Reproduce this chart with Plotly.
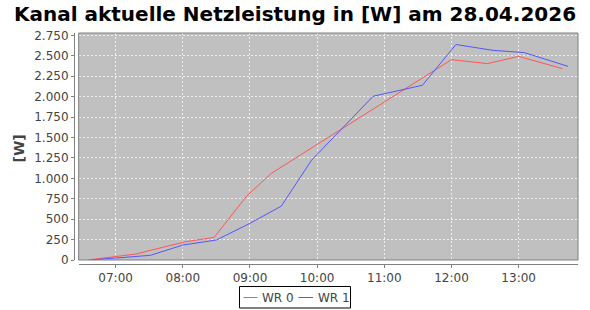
import plotly.graph_objects as go

DAY = "2026-04-28 "

wr0_times = ["06:35", "07:18", "08:01", "08:28", "08:57", "09:19", "12:00", "12:32", "13:00", "13:39"]
wr0_values = [0, 73, 220, 277, 782, 1060, 2453, 2404, 2493, 2343]

wr1_times = ["06:37", "07:31", "08:00", "08:30", "09:00", "09:28", "09:55", "10:50", "11:34", "12:04", "12:37", "13:05", "13:44"]
wr1_values = [0, 57, 183, 245, 449, 660, 1222, 2005, 2139, 2638, 2567, 2539, 2371]

series_names = ["WR 0", "WR 1"]
series_colors = ["#FF5555", "#5555FF"]

y_ticks = [0, 250, 500, 750, 1000, 1250, 1500, 1750, 2000, 2250, 2500, 2750]
x_range = ["06:27", "13:53"]
y_range = [0, 2779]

title_text = "Kanal aktuelle Netzleistung in [W] am 28.04.2026"
y_title = "[W]"

FONT = "DejaVu Sans"
TXT = "#444444"

L, R, T, B = 74, 12, 33, 46
W, H = 590, 310
PW, PH = W - L - R, H - T - B


def px_x(p):
    return (p - L) / PW


def px_y(p):
    return (H - B - p) / PH


fig = go.Figure()
fig.add_trace(go.Scatter(x=[DAY + t for t in wr0_times], y=wr0_values, mode="lines",
                         name=series_names[0], line=dict(color=series_colors[0], width=1)))
fig.add_trace(go.Scatter(x=[DAY + t for t in wr1_times], y=wr1_values, mode="lines",
                         name=series_names[1], line=dict(color=series_colors[1], width=1)))

fig.update_layout(
    width=W, height=H,
    margin=dict(l=L, r=R, t=T, b=B, autoexpand=False),
    paper_bgcolor="white",
    plot_bgcolor="#C0C0C0",
    separators=",.",
    font=dict(family=FONT, size=12, color=TXT),
    title=dict(text="<b>" + title_text + "</b>", x=0.5, xanchor="center", xref="container",
               y=1 - 14 / 310, yanchor="middle", yref="container",
               font=dict(family=FONT, size=20, color="black")),
    xaxis=dict(type="date", range=[DAY + x_range[0], DAY + x_range[1]],
               domain=[0.0093, 1], anchor="free", position=0,
               tickformat="%H:%M", dtick=3600000, tick0=DAY + "00:00", tickangle=0,
               showgrid=True, gridcolor="#EEEEEE", griddash="2px,2px", gridwidth=1,
               showline=True, linecolor="#808080", linewidth=1,
               ticks="outside", ticklen=3, tickcolor="#808080",
               tickfont=dict(family=FONT, size=12, color=TXT), zeroline=False,
               automargin=False),
    yaxis=dict(range=y_range, domain=[0.0173, 1], anchor="free", position=0,
               tickvals=y_ticks, tickformat=",d",
               showgrid=True, gridcolor="#EEEEEE", griddash="2px,2px", gridwidth=1,
               showline=True, linecolor="#808080", linewidth=1,
               ticks="outside", ticklen=3, tickcolor="#808080",
               tickfont=dict(family=FONT, size=12, color=TXT), zeroline=False,
               automargin=False),
    showlegend=False,
)

# plot border
fig.add_shape(type="rect", xref="x domain", yref="y domain", x0=0, x1=1, y0=0, y1=1,
              line=dict(color="#808080", width=1), fillcolor="rgba(0,0,0,0)", layer="above")

# y-axis title
fig.add_annotation(text="<b>" + y_title + "</b>", xref="paper", yref="paper",
                   x=px_x(18), y=0.5, xanchor="center", yanchor="middle",
                   textangle=-90, showarrow=False,
                   font=dict(family=FONT, size=14, color=TXT))

# legend (boxed, below the plot)
fig.add_shape(type="rect", xref="paper", yref="paper",
              x0=px_x(239.5), x1=px_x(350.5), y0=px_y(308), y1=px_y(286.5),
              line=dict(color="black", width=1), fillcolor="white")
legend_items = [(243.5, 257.5, 260), (298.5, 313, 316)]
for (lx0, lx1, tx), name, color in zip(legend_items, series_names, series_colors):
    fig.add_shape(type="line", xref="paper", yref="paper",
                  x0=px_x(lx0), x1=px_x(lx1), y0=px_y(297.5), y1=px_y(297.5),
                  line=dict(color=color, width=1))
    fig.add_annotation(text=name, xref="paper", yref="paper",
                       x=px_x(tx), y=px_y(297.5), xanchor="left", yanchor="middle",
                       showarrow=False, font=dict(family=FONT, size=12, color=TXT))

fig.write_html("out.html")
